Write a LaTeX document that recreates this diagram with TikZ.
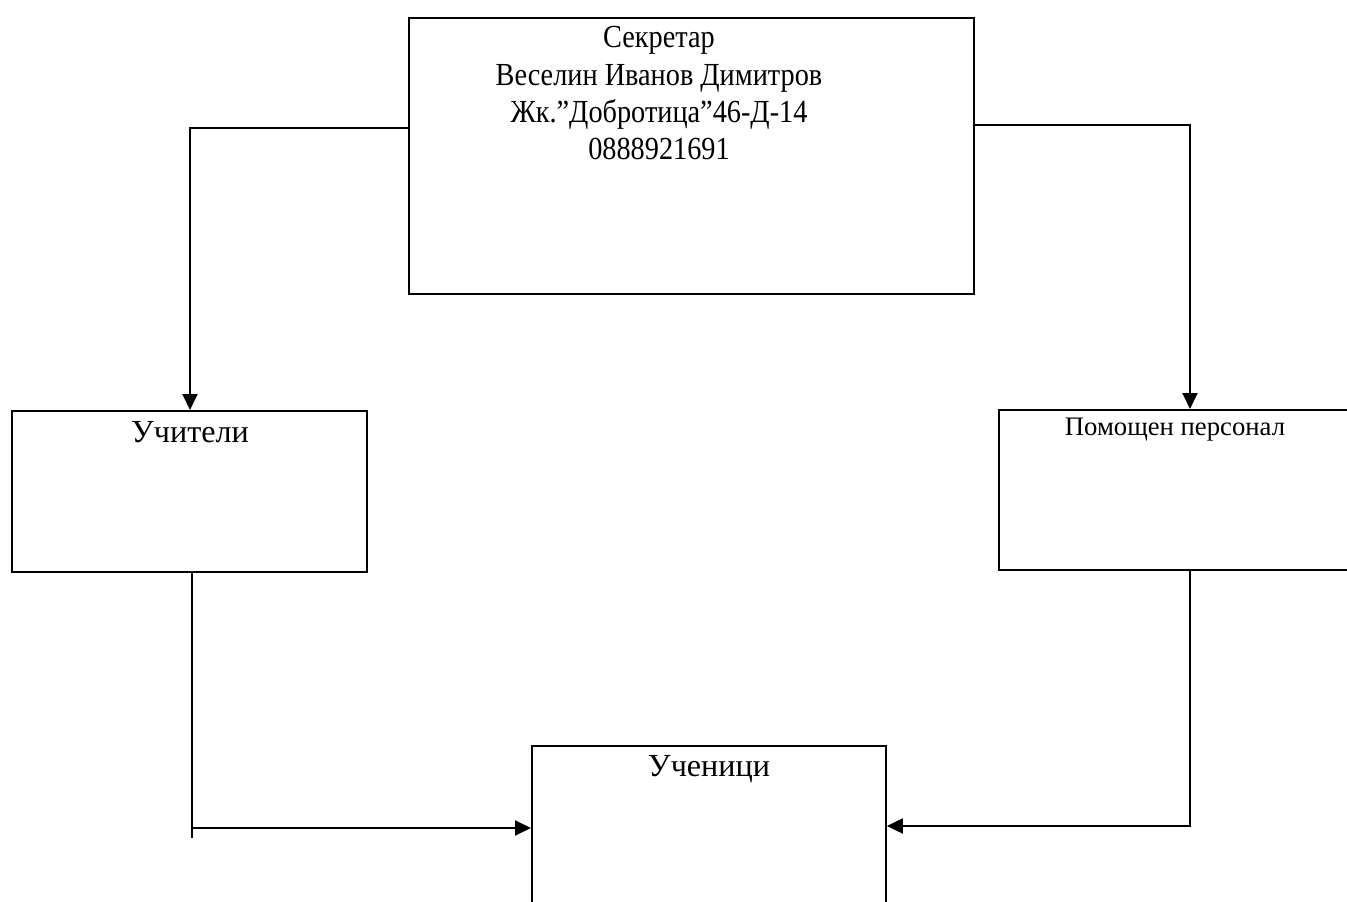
\documentclass[tikz,border=0pt]{standalone}
\usepackage{fontspec}
\setmainfont{Liberation Serif}
\newfontfamily\narrowserif[FakeStretch=0.88]{Liberation Serif}
\usetikzlibrary{arrows.meta,positioning,calc}

\begin{document}
\begin{tikzpicture}[
    x=0.02cm, y=-0.02cm,
    box/.style = {draw, line width=1.1pt, inner sep=0, anchor=north west},
    txt/.style = {inner sep=0, font=\fontsize{18.3}{21.3}\selectfont},
    headtxt/.style = {inner sep=0, font=\narrowserif\fontsize{18.3}{21.3}\selectfont},
    smalltxt/.style = {inner sep=0, font=\fontsize{15.2}{17.5}\selectfont},
    link/.style = {line width=1.1pt},
    flow/.style = {line width=1.1pt, -{Triangle[length=3.2mm,width=3mm]}}
    ]
    \useasboundingbox (0,0) rectangle (1347,902);
    \clip (0,0) rectangle (1347,902);

    \node[box, minimum width=11.3cm, minimum height=5.52cm] (secr) at (408,17) {};
    \node[box, minimum width=7.1cm, minimum height=3.22cm] (teach) at (11,410) {};
    \node[box, minimum width=8cm, minimum height=3.2cm] (staff) at (998,409) {};
    \node[box, minimum width=7.08cm, minimum height=4cm] (pupils) at (531,745) {};

    \node[headtxt, align=center, anchor=north] (secr-txt) at (659,26) {Секретар\\Веселин Иванов Димитров\\Жк.”Добротица”46-Д-14\\0888921691};
    \node[txt, anchor=base] (teach-txt) at (190,443) {Учители};
    \node[smalltxt, anchor=base] (staff-txt) at (1175,436) {Помощен персонал};
    \node[txt, anchor=base] (pupils-txt) at (709,776) {Ученици};

    \coordinate (c1) at (190,128);
    \coordinate (c2) at (1190,125);
    \coordinate (c3) at (192,828);
    \coordinate (c3end) at (192,838);
    \coordinate (c4) at (1190,826);

    \draw[flow] (secr.west |- c1) -- (c1) -- (teach.north -| c1);
    \draw[flow] (secr.east |- c2) -- (c2) -- (staff.north -| c2);
    \draw[link] (teach.south -| c3) -- (c3end);
    \draw[flow] (c3) -- (c3 -| pupils.west);
    \draw[flow] (staff.south -| c4) -- (c4) -- (c4 -| pupils.east);
\end{tikzpicture}
\end{document}
